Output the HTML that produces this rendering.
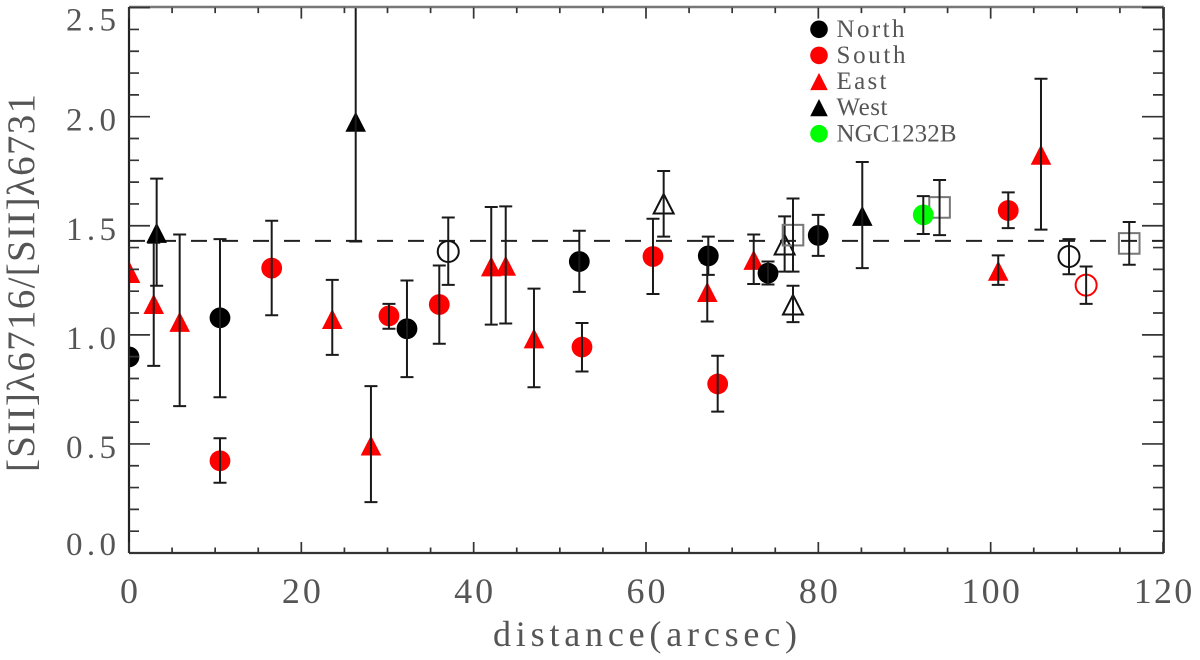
<!DOCTYPE html>
<html>
<head>
<meta charset="utf-8">
<title>[SII] ratio vs distance</title>
<style>
html,body{margin:0;padding:0;background:#fff;width:1200px;height:660px;overflow:hidden}
svg{display:block}
text{font-family:"Liberation Serif","DejaVu Serif",serif;fill:#555}
</style>
</head>
<body>
<svg id="chart" width="1200" height="660" viewBox="0 0 1200 660" xmlns="http://www.w3.org/2000/svg">
  <defs>
    <clipPath id="plot-clip"><rect x="129" y="7" width="1034.5" height="546"/></clipPath>
  </defs>
  <rect x="0" y="0" width="1200" height="660" fill="#fff"/>
  <g id="marks" clip-path="url(#plot-clip)"></g>
  <g id="axes"></g>
  <g id="legend"></g>
  <text x="493" y="646" font-size="36" textLength="304" lengthAdjust="spacing">distance(arcsec)</text>
  <text transform="translate(34,472) rotate(-90)" x="0" y="0" font-size="39" textLength="378" lengthAdjust="spacing">[SII]λ6716/[SII]λ6731</text>
</svg>
<script>
var xTickLabels = ['0', '20', '40', '60', '80', '100', '120'];
var yTickLabels = ['0.0', '0.5', '1.0', '1.5', '2.0', '2.5'];
var referenceRatio = 1.431;

var northX = [0, 10.56, 32.26, 52.26, 67.23, 74.16, 79.99];
var northY = [0.899, 1.078, 1.028, 1.336, 1.362, 1.283, 1.456];
var northHi = [0.899, 1.439, 1.249, 1.477, 1.45, 1.336, 1.55];
var northLo = [0.899, 0.714, 0.806, 1.197, 1.275, 1.231, 1.362];

var southX = [10.56, 16.56, 30.17, 36.01, 52.57, 60.81, 68.32, 102.04];
var southY = [0.423, 1.306, 1.087, 1.139, 0.944, 1.359, 0.775, 1.57];
var southHi = [0.526, 1.523, 1.142, 1.318, 1.054, 1.532, 0.904, 1.653];
var southLo = [0.322, 1.09, 1.028, 0.959, 0.832, 1.187, 0.648, 1.489];

var eastX = [0.12, 2.87, 5.88, 23.59, 28.08, 42.04, 43.72, 47.0, 67.11, 72.5, 100.88, 105.84];
var eastY = [1.284, 1.142, 1.06, 1.073, 0.493, 1.314, 1.317, 0.984, 1.197, 1.344, 1.294, 1.826];
var eastHi = [1.284, 1.422, 1.46, 1.252, 0.765, 1.586, 1.589, 1.212, 1.33, 1.46, 1.364, 2.174];
var eastLo = [1.284, 0.858, 0.673, 0.908, 0.233, 1.047, 1.052, 0.76, 1.061, 1.233, 1.229, 1.482];

var westX = [3.21, 26.31, 85.1];
var westY = [1.468, 1.977, 1.546];
var westHi = [1.716, 2.526, 1.792];
var westLo = [1.225, 1.428, 1.306];

var westOpenX = [62.05, 76.09, 77.06];
var westOpenY = [1.601, 1.413, 1.138];
var westOpenHi = [1.751, 1.543, 1.225];
var westOpenLo = [1.45, 1.29, 1.058];

var northOpenX = [37.05, 109.09];
var northOpenY = [1.382, 1.359];
var northOpenHi = [1.538, 1.439];
var northOpenLo = [1.229, 1.278];

var southOpenX = [111.08];
var southOpenY = [1.228];
var southOpenHi = [1.313];
var southOpenLo = [1.142];

var squareX = [77.06, 94.07, 116.08];
var squareY = [1.457, 1.584, 1.419];
var squareHi = [1.625, 1.71, 1.517];
var squareLo = [1.29, 1.457, 1.321];

var ngcX = [92.18];
var ngcY = [1.55];
var ngcHi = [1.636];
var ngcLo = [1.462];

var legendLabels = ['North', 'South', 'East', 'West', 'NGC1232B'];
var legendColors = ['#000', '#f00', '#f00', '#000', '#0f0'];
var legendShapes = ['circle', 'circle', 'triangle', 'triangle', 'circle'];

var NS = 'http://www.w3.org/2000/svg';
var LEFT = 129, RIGHT = 1163, TOP = 7.6, BOTTOM = 553;
function sx(v) { return LEFT + (v / 120) * (RIGHT - LEFT); }
function sy(v) { return BOTTOM - (v / 2.5) * (BOTTOM - TOP); }

function make(tag, attrs, parent) {
  var el = document.createElementNS(NS, tag);
  for (var k in attrs) el.setAttribute(k, attrs[k]);
  parent.appendChild(el);
  return el;
}

var marks = document.getElementById('marks');
var axes = document.getElementById('axes');
var legend = document.getElementById('legend');

var dashLine = make('line', {x1: LEFT, x2: RIGHT, y1: sy(referenceRatio), y2: sy(referenceRatio), stroke: '#222', 'stroke-width': 2, 'stroke-dasharray': '16 15'}, marks);



function marker(shape, cx, cy, fill, stroke, size, parent) {
  var el;
  if (shape === 'circle') {
    el = make('circle', {cx: cx, cy: cy, r: size}, parent);
  } else if (shape === 'triangle') {
    var pts = cx + ',' + (cy - size * 0.98) + ' ' + (cx - size) + ',' + (cy + size * 0.98) + ' ' + (cx + size) + ',' + (cy + size * 0.98);
    el = make('polygon', {points: pts}, parent);
  } else {
    el = make('rect', {x: cx - size, y: cy - size, width: 2 * size, height: 2 * size}, parent);
  }
  el.setAttribute('fill', fill);
  el.setAttribute('stroke', stroke);
  el.setAttribute('stroke-width', stroke === 'none' ? 0 : 2);
  return el;
}

function drawSeries(name, shape, fill, stroke, size, xs, ys, his, los) {
  for (var i = 0; i < xs.length; i++) {
    var cx = sx(xs[i]), cy = sy(ys[i]);
    var m = marker(shape, cx, cy, fill, stroke, size, marks);
    
    
    if (his[i] > los[i]) {
      var yHi = sy(his[i]), yLo = sy(los[i]);
      var bar = make('path', {
        d: 'M' + cx + ' ' + yHi + 'V' + yLo + 'M' + (cx - 6.5) + ' ' + yHi + 'H' + (cx + 6.5) + 'M' + (cx - 6.5) + ' ' + yLo + 'H' + (cx + 6.5),
        stroke: '#1a1a1a', 'stroke-width': 2, fill: 'none'
      }, marks);
      
      
    }
  }
}

drawSeries('south-open', 'circle', 'none', '#f00', 10.5, southOpenX, southOpenY, southOpenHi, southOpenLo);
drawSeries('north-open', 'circle', 'none', '#111', 10.5, northOpenX, northOpenY, northOpenHi, northOpenLo);
drawSeries('west-open', 'triangle', 'none', '#111', 10, westOpenX, westOpenY, westOpenHi, westOpenLo);
drawSeries('square-open', 'square', 'none', '#777', 10.3, squareX, squareY, squareHi, squareLo);
drawSeries('east', 'triangle', '#f00', 'none', 10.3, eastX, eastY, eastHi, eastLo);
drawSeries('south', 'circle', '#f00', 'none', 10.4, southX, southY, southHi, southLo);
drawSeries('ngc1232b', 'circle', '#0f0', 'none', 10.4, ngcX, ngcY, ngcHi, ngcLo);
drawSeries('north', 'circle', '#000', 'none', 10.4, northX, northY, northHi, northLo);
drawSeries('west', 'triangle', '#000', 'none', 10.3, westX, westY, westHi, westLo);

var frameParts = [
  [LEFT, BOTTOM, RIGHT + 0.7, BOTTOM, '#333', 2.2],
  [LEFT, TOP - 0.6, LEFT, BOTTOM, '#222', 2.2],
  [RIGHT + 0.7, TOP - 0.6, RIGHT + 0.7, BOTTOM, '#222', 2.2],
  [LEFT, TOP - 0.6, RIGHT + 0.7, TOP - 0.6, '#777', 2.6]
];
frameParts.forEach(function (f) {
  var line = make('line', {x1: f[0], y1: f[1], x2: f[2], y2: f[3], stroke: f[4], 'stroke-width': f[5]}, axes);
  
  
});

var tickPath = '';
for (var xv = 0; xv <= 120; xv += 5) {
  var isMajorX = xv % 20 === 0;
  tickPath += 'M' + sx(xv) + ' ' + BOTTOM + 'v' + (isMajorX ? -11 : -5.5);
  tickPath += 'M' + sx(xv) + ' ' + TOP + 'v' + (isMajorX ? 11 : 5.5);
}
for (var yi = 0; yi <= 25; yi++) {
  var isMajorY = yi % 5 === 0;
  var yp = sy(yi / 10);
  tickPath += 'M' + LEFT + ' ' + yp + 'h' + (isMajorY ? 21 : 10);
  tickPath += 'M' + RIGHT + ' ' + yp + 'h' + (isMajorY ? -21 : -10);
}
var ticks = make('path', {d: tickPath, stroke: '#333', 'stroke-width': 1.7, fill: 'none'}, axes);



xTickLabels.forEach(function (label) {
  var t = make('text', {x: sx(+label), y: 603, 'font-size': 36, 'text-anchor': 'middle', textLength: 19.5 * label.length, lengthAdjust: 'spacing'}, axes);
  t.textContent = label;
  
  
});
yTickLabels.forEach(function (label) {
  var v = +label;
  var shift = v === 0 ? 2 : (v === 2.5 ? 23 : 14);
  var t = make('text', {x: 116, y: sy(v) + shift, 'font-size': 33, 'text-anchor': 'end', textLength: 50, lengthAdjust: 'spacing'}, axes);
  t.textContent = label;
  
  
});

var legendTextWidths = [68, 69, 50, 51, 120];
legendLabels.forEach(function (label, i) {
  var cy = 29.3 + i * 26.1;
  var m = marker(legendShapes[i], 819, cy, legendColors[i], 'none', 8.8, legend);
  
  
  var t = make('text', {x: 836.5, y: cy + 7.6, 'font-size': 25, textLength: legendTextWidths[i], lengthAdjust: 'spacing'}, legend);
  t.textContent = label;
  
  
});
</script>
</body>
</html>
